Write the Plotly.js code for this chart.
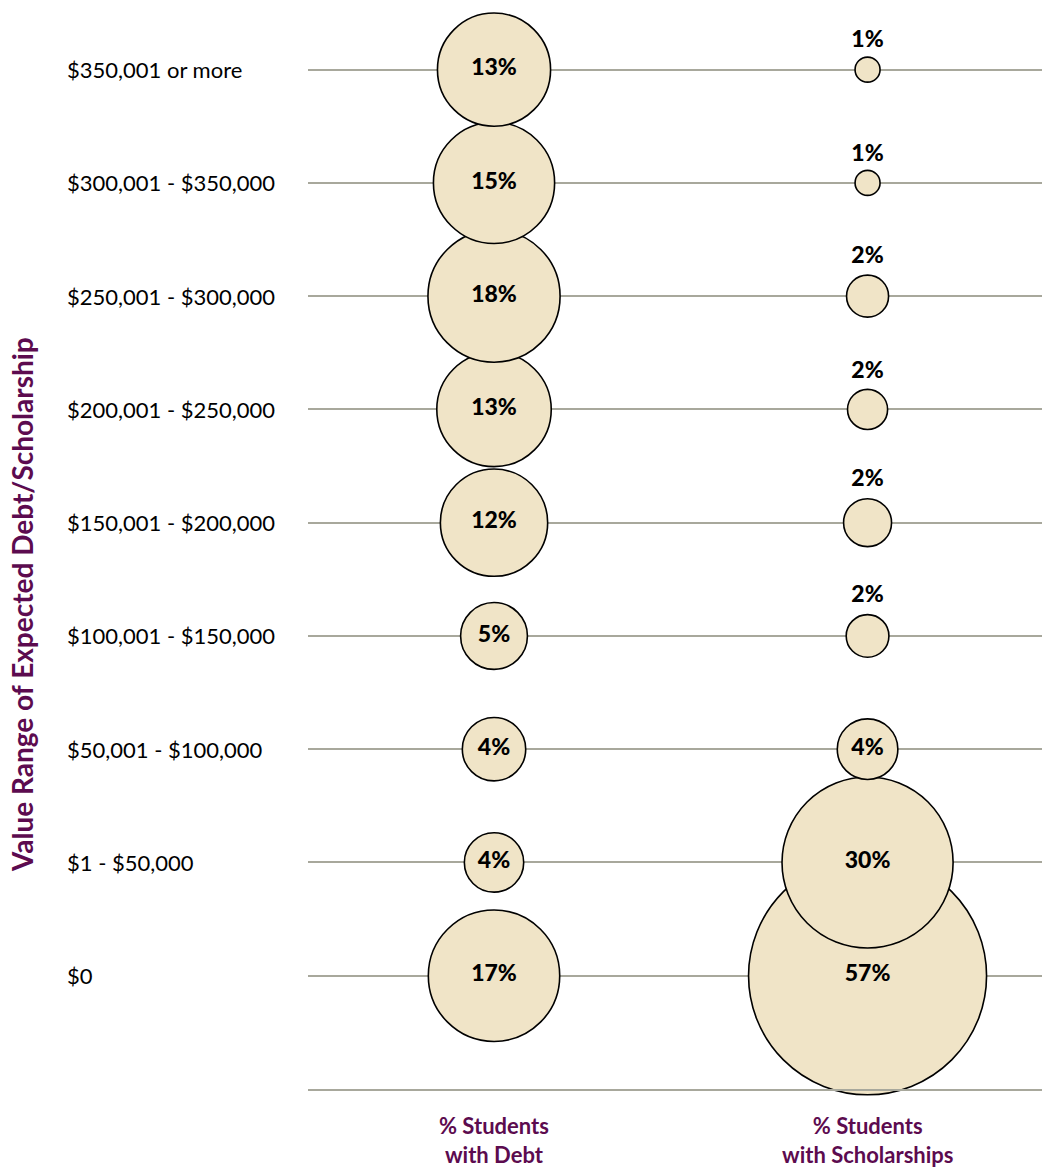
<!DOCTYPE html>
<html>
<head>
<meta charset="utf-8">
<script src="https://cdn.plot.ly/plotly-3.0.1.min.js"></script>
<style>
html,body{margin:0;padding:0;background:#fff;}
#chart{width:1042px;height:1167px;}
</style>
</head>
<body>
<div id="chart"></div>
<script>
// Categories, bottom to top
const categories = ['$0', '$1 - $50,000', '$50,001 - $100,000', '$100,001 - $150,000',
  '$150,001 - $200,000', '$200,001 - $250,000', '$250,001 - $300,000',
  '$300,001 - $350,000', '$350,001 or more'];
// % of students (labels are rounded)
const debtPct = [17.4, 3.55, 4.05, 4.5, 11.6, 13.2, 17.6, 14.8, 12.9];
const scholPct = [57.1, 29.5, 3.7, 1.84, 2.32, 1.62, 1.78, 0.63, 0.63];
const columnLabels = ['% Students<br>with Debt', '% Students<br>with Scholarships'];
const yTitle = 'Value Range of Expected Debt/Scholarship';

const PURPLE = '#5c0b4f';
const FILL = '#f0e4c7';
const GRID = '#a8a89c';
const FONT = 'Lato, "Open Sans", sans-serif';

const yIdx = categories.map((c, i) => i);

function bubbleTrace(vals, col) {
  return {
    type: 'scatter',
    mode: 'markers+text',
    x: vals.map(() => col),
    y: yIdx,
    text: vals.map(v => Math.round(v) + '%'),
    textposition: vals.map(v => v >= 3 ? 'middle center' : 'top center'),
    textfont: {family: FONT, size: 23, color: '#000', weight: 900},
    marker: {
      size: vals,
      sizemode: 'area',
      sizeref: 0.002016,
      color: FILL,
      opacity: 1,
      line: {color: '#000', width: 1.6}
    },
    cliponaxis: false,
    hoverinfo: 'skip',
    showlegend: false
  };
}

const data = [bubbleTrace(debtPct, 0), bubbleTrace(scholPct, 1)];

const annotations = categories.map((c, i) => ({
  xref: 'paper', yref: 'y',
  x: (65 - 308) / 734, y: i,
  xanchor: 'left', yanchor: 'middle',
  text: c, showarrow: false,
  font: {family: FONT, size: 22, color: '#000'}
}));
annotations.push({
  xref: 'paper', yref: 'paper',
  x: (22 - 308) / 734, y: (1089 - 605) / 1076,
  xanchor: 'center', yanchor: 'middle',
  textangle: -90,
  text: yTitle, showarrow: false,
  font: {family: FONT, size: 28, color: PURPLE, weight: 'bold'}
});
columnLabels.forEach((t, i) => annotations.push({
  xref: 'x', yref: 'paper',
  x: i, y: -(1140 - 1089) / 1076,
  xanchor: 'center', yanchor: 'middle',
  borderpad: 0,
  text: t, showarrow: false,
  font: {family: FONT, size: 22, color: PURPLE, weight: 'bold'}
}));

const layout = {
  width: 1042, height: 1167,
  margin: {l: 308, r: 0, t: 13, b: 78, pad: 0},
  paper_bgcolor: '#fff', plot_bgcolor: '#fff',
  showlegend: false,
  xaxis: {
    range: [-0.498, 1.467],
    showgrid: false, zeroline: false,
    showticklabels: false, ticks: '',
    showline: true, linecolor: GRID, linewidth: 2
  },
  yaxis: {
    range: [-1, 8.5],
    tickvals: yIdx,
    showticklabels: false, ticks: '',
    showgrid: true, gridcolor: GRID, gridwidth: 2,
    zeroline: false, showline: false
  },
  annotations: annotations
};

Plotly.newPlot('chart', data, layout, {displayModeBar: false, staticPlot: true});
</script>
</body>
</html>
